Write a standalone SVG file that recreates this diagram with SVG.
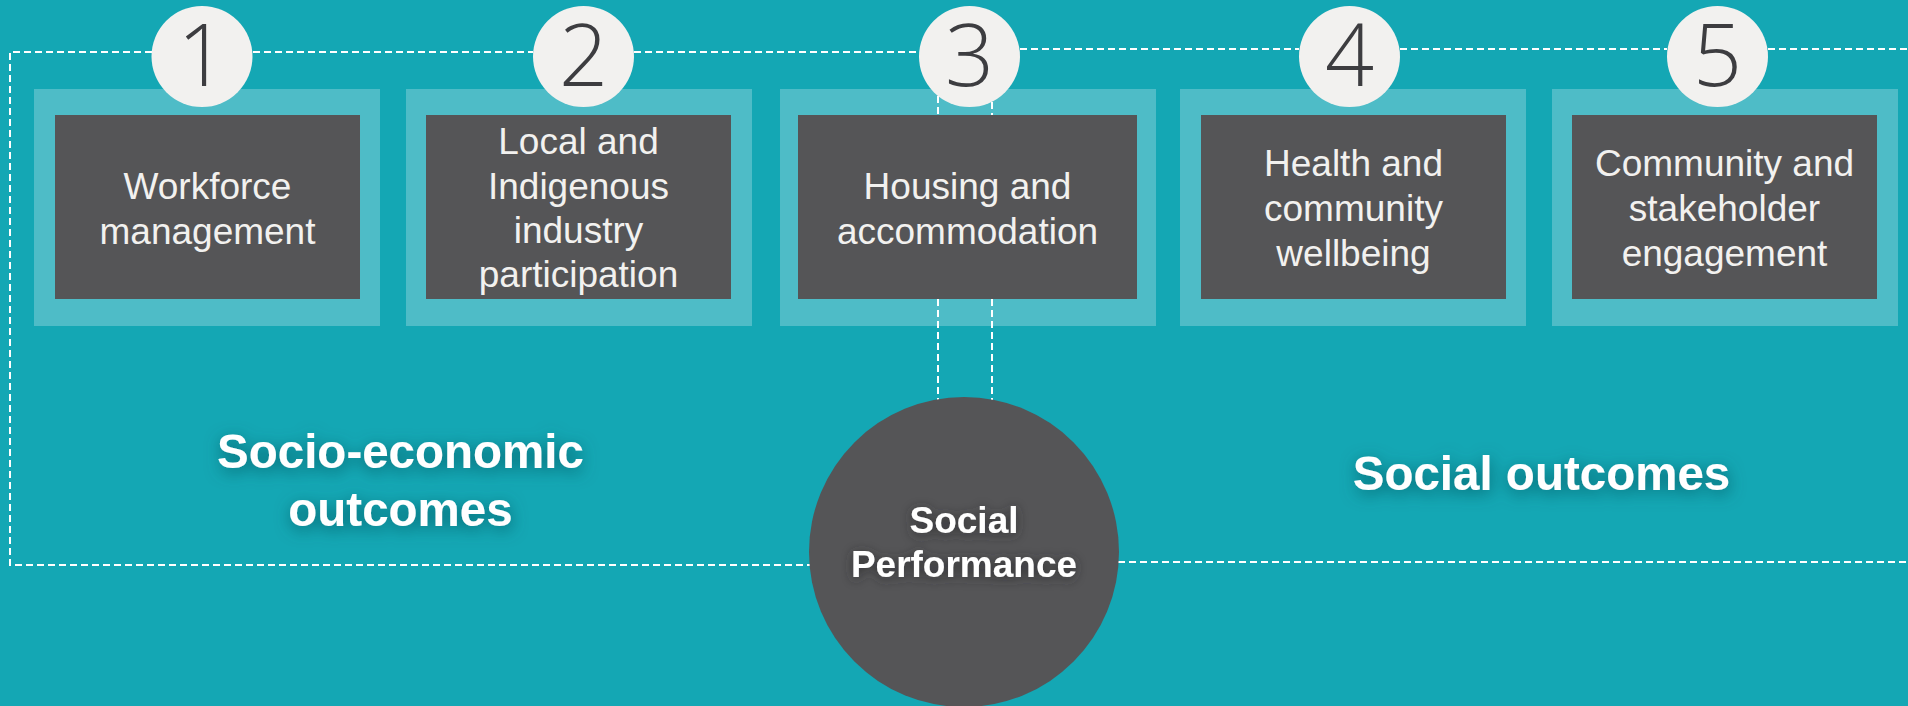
<svg xmlns="http://www.w3.org/2000/svg" width="1908" height="706" viewBox="0 0 1908 706">
<style>
.outer{fill:#4ebcc7}
.inner{fill:#555557}
.badge{fill:#f2f1ef}
.num{font-family:"Open Sans","Liberation Sans",sans-serif;font-weight:300;font-size:86px;fill:#3d3d40;text-anchor:middle}
.lbl{font-family:"Liberation Sans",Arial,sans-serif;font-size:37px;fill:#f2f1ef;text-anchor:middle}
.big{font-family:"Liberation Sans",Arial,sans-serif;font-weight:bold;font-size:47.5px;fill:#ffffff;text-anchor:middle}
.core{font-family:"Liberation Sans",Arial,sans-serif;font-weight:bold;font-size:37px;fill:#ffffff;text-anchor:middle}
.dash{fill:none;stroke:#ffffff;stroke-width:2;stroke-dasharray:7 4}
</style>
<defs>
<filter id="glowTeal" x="-30%" y="-60%" width="160%" height="220%">
<feGaussianBlur in="SourceAlpha" stdDeviation="8"/>
<feOffset dx="1" dy="4" result="b"/>
<feFlood flood-color="#0a5a63" flood-opacity="0.85"/>
<feComposite in2="b" operator="in"/>
<feMerge><feMergeNode/><feMergeNode in="SourceGraphic"/></feMerge>
</filter>
<filter id="glowDark" x="-30%" y="-60%" width="160%" height="220%">
<feGaussianBlur in="SourceAlpha" stdDeviation="6"/>
<feOffset dx="0" dy="2" result="b"/>
<feFlood flood-color="#2a2a2c" flood-opacity="0.9"/>
<feComposite in2="b" operator="in"/>
<feMerge><feMergeNode/><feMergeNode in="SourceGraphic"/></feMerge>
</filter>
</defs>
<rect x="0" y="0" width="1908" height="706" fill="#14a7b4"/>

<g id="node-1">
<rect class="outer" x="34" y="89" width="346" height="237"/>
<rect class="inner" x="55" y="115" width="305" height="184"/>
<text class="lbl" x="207.5" y="199">Workforce</text>
<text class="lbl" x="207.5" y="244">management</text>
<circle class="badge" cx="202" cy="56.5" r="50.5"/>
<text class="num" x="202" y="86">1</text>
</g>

<g id="node-2">
<rect class="outer" x="406" y="89" width="346" height="237"/>
<rect class="inner" x="426" y="115" width="305" height="184"/>
<text class="lbl" x="578.5" y="154">Local and</text>
<text class="lbl" x="578.5" y="199">Indigenous</text>
<text class="lbl" x="578.5" y="243">industry</text>
<text class="lbl" x="578.5" y="287">participation</text>
<circle class="badge" cx="583.5" cy="56.5" r="50.5"/>
<text class="num" x="583.5" y="86">2</text>
</g>

<g id="node-3">
<rect class="outer" x="780" y="89" width="376" height="237"/>
<rect class="inner" x="798" y="115" width="339" height="184"/>
<text class="lbl" x="967.5" y="199">Housing and</text>
<text class="lbl" x="967.5" y="244">accommodation</text>
<circle class="badge" cx="969.5" cy="56.5" r="50.5"/>
<text class="num" x="969.5" y="86">3</text>
</g>

<g id="node-4">
<rect class="outer" x="1180" y="89" width="346" height="237"/>
<rect class="inner" x="1201" y="115" width="305" height="184"/>
<text class="lbl" x="1353.5" y="176">Health and</text>
<text class="lbl" x="1353.5" y="221">community</text>
<text class="lbl" x="1353.5" y="266">wellbeing</text>
<circle class="badge" cx="1349.5" cy="56.5" r="50.5"/>
<text class="num" x="1349.5" y="86">4</text>
</g>

<g id="node-5">
<rect class="outer" x="1552" y="89" width="346" height="237"/>
<rect class="inner" x="1572" y="115" width="305" height="184"/>
<text class="lbl" x="1724.5" y="176">Community and</text>
<text class="lbl" x="1724.5" y="221">stakeholder</text>
<text class="lbl" x="1724.5" y="266">engagement</text>
<circle class="badge" cx="1717.5" cy="56.5" r="50.5"/>
<text class="num" x="1717.5" y="86">5</text>
</g>

<g id="connectors">
<path class="dash" d="M152 52 H10 V565 H810"/>
<path class="dash" d="M253 52 H533"/>
<path class="dash" d="M634 52 H919"/>
<path class="dash" d="M1020 49 H1299"/>
<path class="dash" d="M1400 49 H1667"/>
<path class="dash" d="M1768 49 H1908"/>
<path class="dash" d="M1118 562 H1908"/>
<path class="dash" d="M938 96 V115 M938 299 V402"/>
<path class="dash" d="M992 102 V115 M992 299 V402"/>
</g>

<g id="label-socio-economic" filter="url(#glowTeal)">
<text class="big" x="400.5" y="468">Socio-economic</text>
<text class="big" x="400.5" y="526">outcomes</text>
</g>

<g id="label-social-outcomes" filter="url(#glowTeal)">
<text class="big" x="1541.5" y="490">Social outcomes</text>
</g>

<g id="node-social-performance">
<circle cx="964" cy="552" r="155" fill="#555557"/>
<g filter="url(#glowDark)">
<text class="core" x="964" y="533">Social</text>
<text class="core" x="964" y="577">Performance</text>
</g>
</g>
</svg>
